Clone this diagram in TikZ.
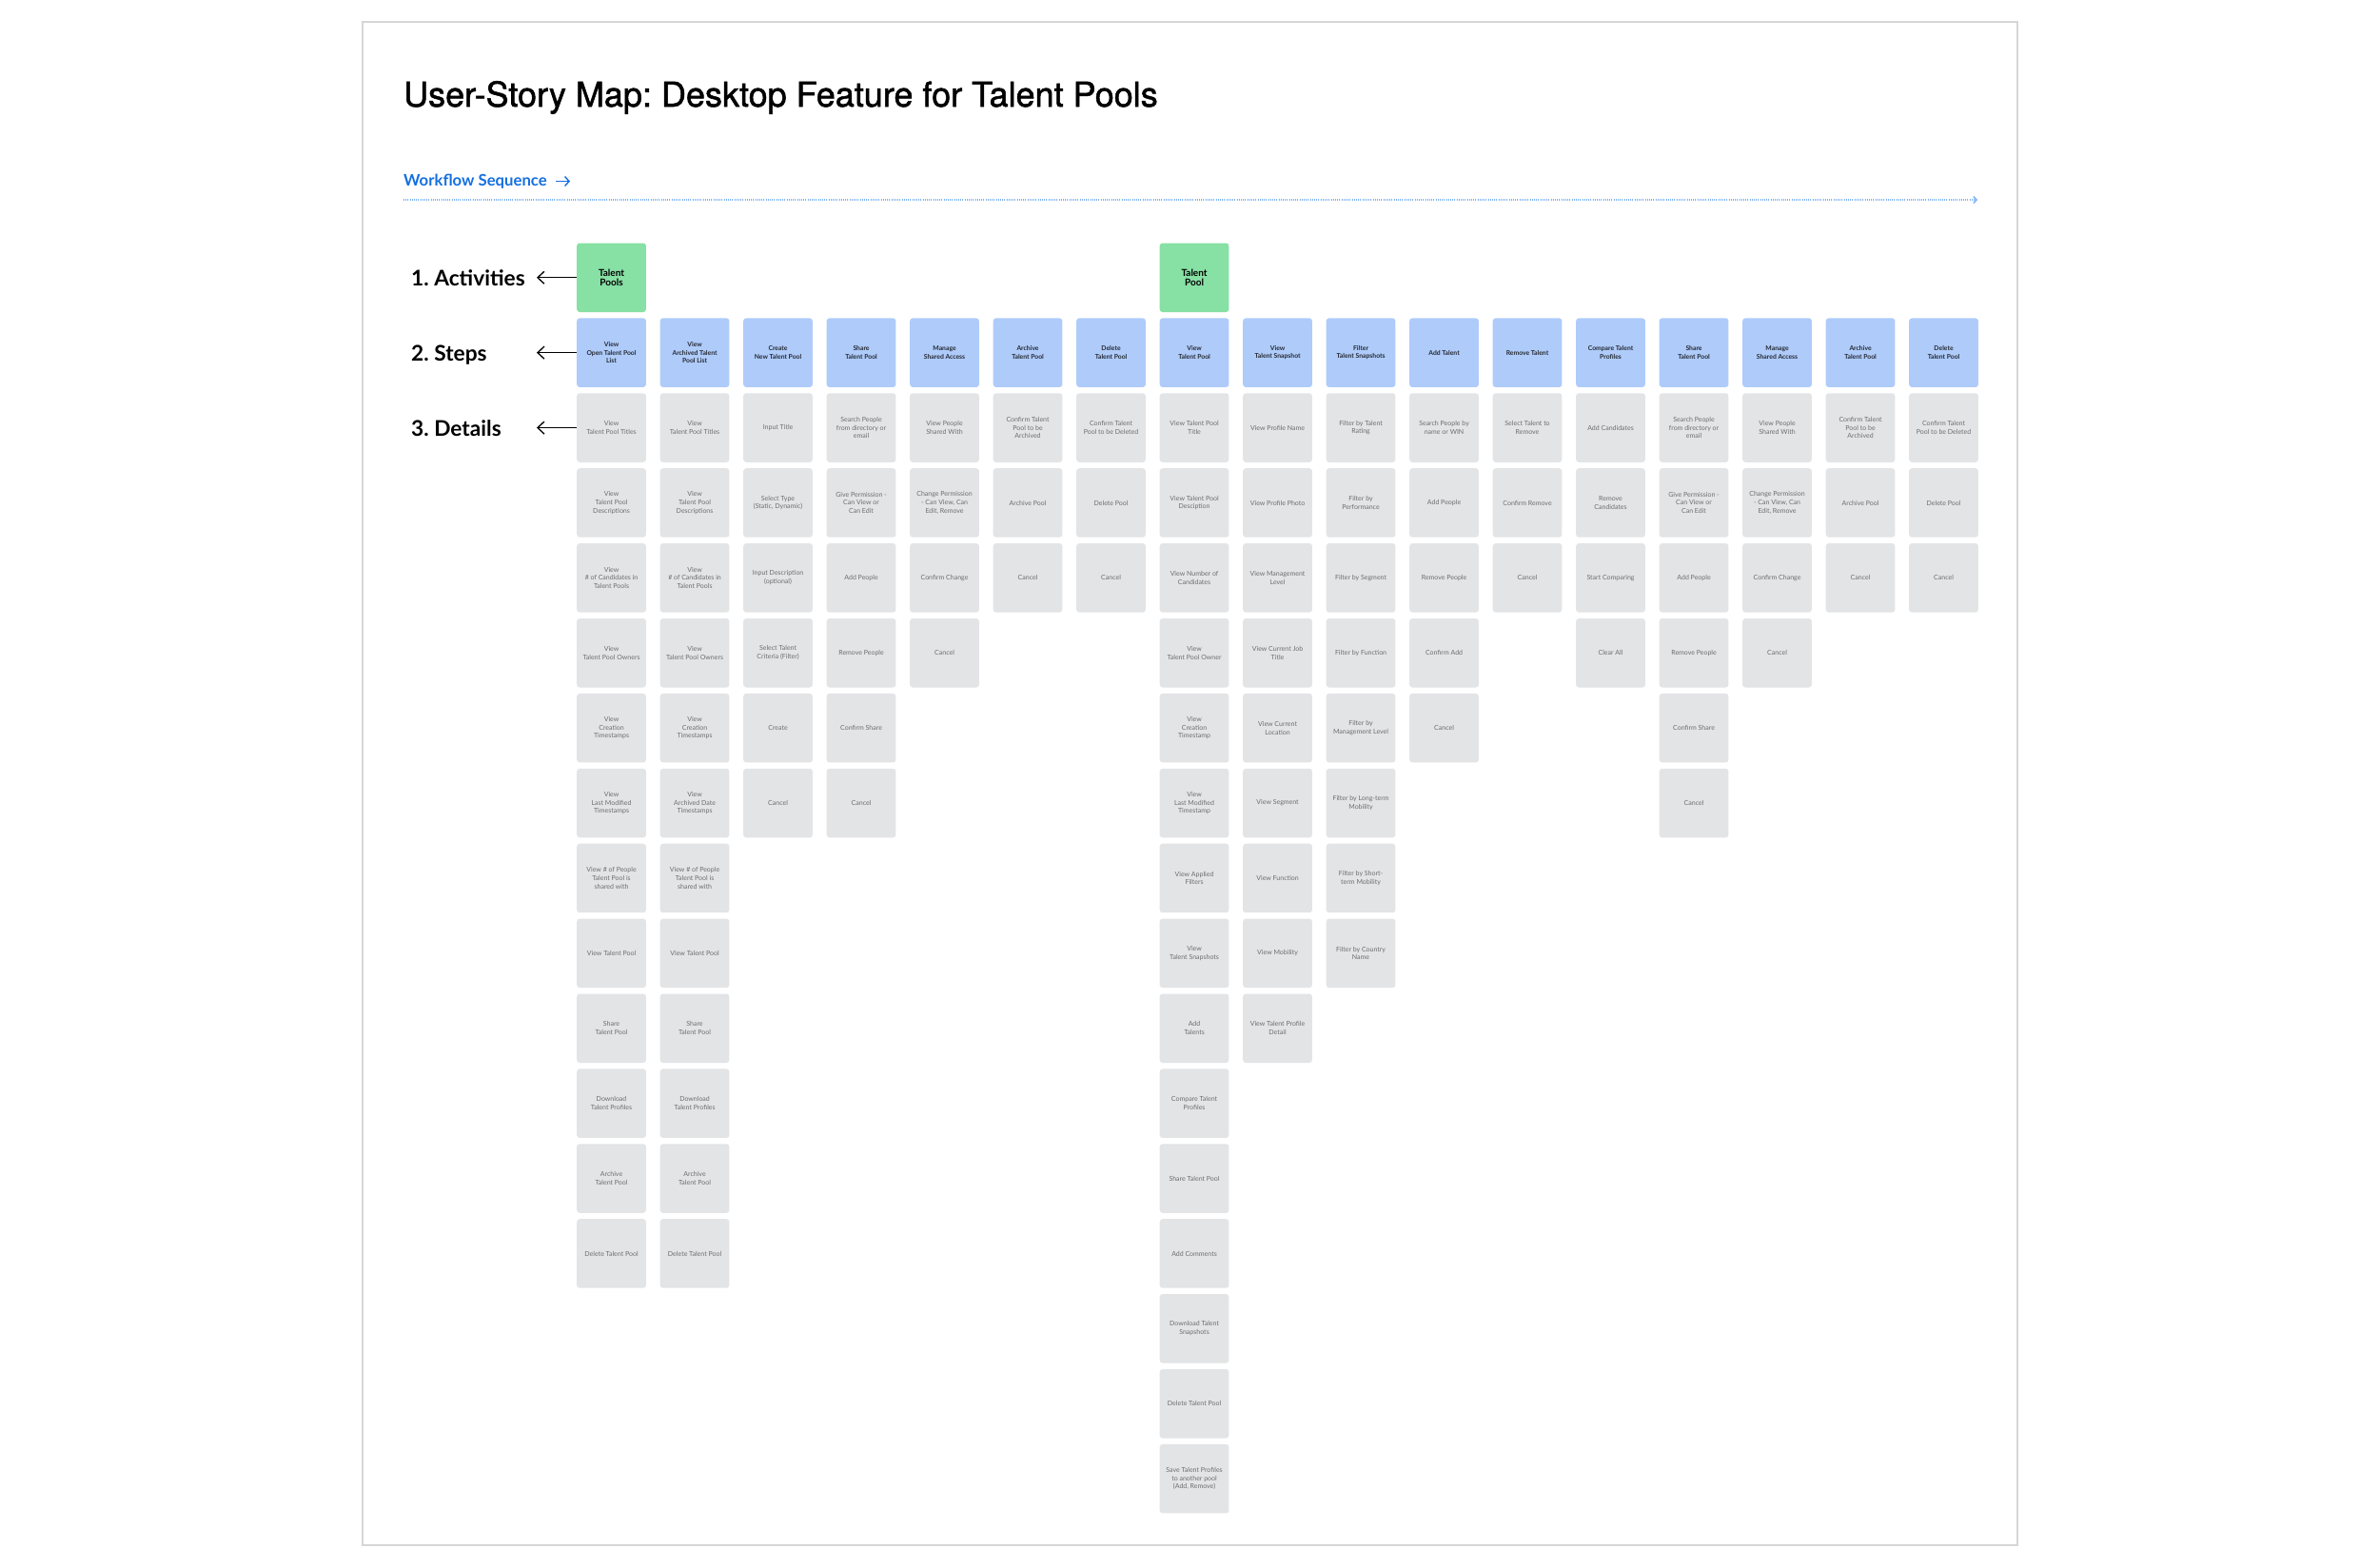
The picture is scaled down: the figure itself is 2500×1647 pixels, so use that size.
\documentclass[tikz,border=0pt]{standalone}
\usepackage{fontspec}
\setmainfont{Lato}
\newfontfamily\titlefont[FakeBold=1.4]{TeX Gyre Heros}
\usetikzlibrary{arrows.meta}
\frenchspacing
\definecolor{actgreen}{HTML}{87E0A4}
\definecolor{stepblue}{HTML}{AECBFA}
\definecolor{detgray}{HTML}{E3E4E6}
\definecolor{dettext}{HTML}{6E6E6E}
\definecolor{steptext}{HTML}{262A33}
\definecolor{framegray}{HTML}{D6D6D6}
\definecolor{wfblue}{HTML}{1570E0}
\definecolor{wfline}{HTML}{7DB3F5}
\newcommand\crd[4]{\node[#3] (c#1r#2) at ({606+87.5*(#1-1)},{255.3+78.9*(#2)}) {#4};}
\begin{document}
\begin{tikzpicture}[x=1pt,y=-1pt,
  cardbox/.style={anchor=north west, minimum width=72.7pt, minimum height=72.5pt,
    inner sep=0pt, rounded corners=3pt, align=center},
  act/.style={cardbox, fill=actgreen, text=black, font=\bfseries\fontsize{10}{10}\selectfont},
  stp/.style={cardbox, fill=stepblue, text=steptext, font=\bfseries\fontsize{6.8}{8.7}\selectfont},
  det/.style={cardbox, fill=detgray, text=dettext, font=\fontsize{7}{8.7}\selectfont},
  lbl/.style={anchor=base west, inner sep=0pt, text=black, font=\bfseries\fontsize{22.7}{26}\selectfont},
  lblarrow/.style={-{Straight Barb[length=7pt,width=13pt]}, line width=1.3pt, black}
]
\useasboundingbox (0,0) rectangle (2500,1647);
\fill[white] (0,0) rectangle (2500,1647);
\draw[framegray, line width=2pt] (380.5,23) rectangle (2120,1624);

% title
\node[anchor=base west, inner sep=0pt, font=\titlefont\fontsize{36}{40}\selectfont] (title) at (424,112) {User-Story Map: Desktop Feature for Talent Pools};

% workflow sequence
\node[anchor=base west, inner sep=0pt, text=wfblue, font=\bfseries\fontsize{16.7}{18}\selectfont] (wf) at (424,195) {Workflow Sequence};
\coordinate (wfa1) at (584,190.5);
\coordinate (wfa2) at (599,190.5);
\draw[wfblue, line width=1.4pt, -{Straight Barb[length=4.5pt,width=10pt]}] (wfa1) -- (wfa2);
\coordinate (wfs) at (424,210);
\coordinate (wfe) at (2078,210);
\draw[wfline, line width=1.6pt, dash pattern=on 1pt off 1.2pt, -{Straight Barb[length=3pt,width=7pt]}] (wfs) -- (wfe);

% column 1
\crd{1}{0}{act}{Talent\\Pools}
\crd{1}{1}{stp}{View\\Open Talent Pool\\List}
\crd{1}{2}{det}{View\\Talent Pool Titles}
\crd{1}{3}{det}{View\\Talent Pool\\Descriptions}
\crd{1}{4}{det}{View\\\# of Candidates in\\Talent Pools}
\crd{1}{5}{det}{View\\Talent Pool Owners}
\crd{1}{6}{det}{View\\Creation\\Timestamps}
\crd{1}{7}{det}{View\\Last Modified\\Timestamps}
\crd{1}{8}{det}{View \# of People\\Talent Pool is\\shared with}
\crd{1}{9}{det}{View Talent Pool}
\crd{1}{10}{det}{Share\\Talent Pool}
\crd{1}{11}{det}{Download\\Talent Profiles}
\crd{1}{12}{det}{Archive\\Talent Pool}
\crd{1}{13}{det}{Delete Talent Pool}

% column 2
\crd{2}{1}{stp}{View\\Archived Talent\\Pool List}
\crd{2}{2}{det}{View\\Talent Pool Titles}
\crd{2}{3}{det}{View\\Talent Pool\\Descriptions}
\crd{2}{4}{det}{View\\\# of Candidates in\\Talent Pools}
\crd{2}{5}{det}{View\\Talent Pool Owners}
\crd{2}{6}{det}{View\\Creation\\Timestamps}
\crd{2}{7}{det}{View\\Archived Date\\Timestamps}
\crd{2}{8}{det}{View \# of People\\Talent Pool is\\shared with}
\crd{2}{9}{det}{View Talent Pool}
\crd{2}{10}{det}{Share\\Talent Pool}
\crd{2}{11}{det}{Download\\Talent Profiles}
\crd{2}{12}{det}{Archive\\Talent Pool}
\crd{2}{13}{det}{Delete Talent Pool}

% column 3
\crd{3}{1}{stp}{Create\\New Talent Pool}
\crd{3}{2}{det}{Input Title}
\crd{3}{3}{det}{Select Type\\(Static, Dynamic)}
\crd{3}{4}{det}{Input Description\\(optional)}
\crd{3}{5}{det}{Select Talent\\Criteria (Filter)}
\crd{3}{6}{det}{Create}
\crd{3}{7}{det}{Cancel}

% column 4
\crd{4}{1}{stp}{Share\\Talent Pool}
\crd{4}{2}{det}{Search People\\from directory or\\email}
\crd{4}{3}{det}{Give Permission -\\Can View or\\Can Edit}
\crd{4}{4}{det}{Add People}
\crd{4}{5}{det}{Remove People}
\crd{4}{6}{det}{Confirm Share}
\crd{4}{7}{det}{Cancel}

% column 5
\crd{5}{1}{stp}{Manage\\Shared Access}
\crd{5}{2}{det}{View People\\Shared With}
\crd{5}{3}{det}{Change Permission\\- Can View, Can\\Edit, Remove}
\crd{5}{4}{det}{Confirm Change}
\crd{5}{5}{det}{Cancel}

% column 6
\crd{6}{1}{stp}{Archive\\Talent Pool}
\crd{6}{2}{det}{Confirm Talent\\Pool to be\\Archived}
\crd{6}{3}{det}{Archive Pool}
\crd{6}{4}{det}{Cancel}

% column 7
\crd{7}{1}{stp}{Delete\\Talent Pool}
\crd{7}{2}{det}{Confirm Talent\\Pool to be Deleted}
\crd{7}{3}{det}{Delete Pool}
\crd{7}{4}{det}{Cancel}

% column 8
\crd{8}{0}{act}{Talent\\Pool}
\crd{8}{1}{stp}{View\\Talent Pool}
\crd{8}{2}{det}{View Talent Pool\\Title}
\crd{8}{3}{det}{View Talent Pool\\Desciption}
\crd{8}{4}{det}{View Number of\\Candidates}
\crd{8}{5}{det}{View\\Talent Pool Owner}
\crd{8}{6}{det}{View\\Creation\\Timestamp}
\crd{8}{7}{det}{View\\Last Modified\\Timestamp}
\crd{8}{8}{det}{View Applied\\Filters}
\crd{8}{9}{det}{View\\Talent Snapshots}
\crd{8}{10}{det}{Add\\Talents}
\crd{8}{11}{det}{Compare Talent\\Profiles}
\crd{8}{12}{det}{Share Talent Pool}
\crd{8}{13}{det}{Add Comments}
\crd{8}{14}{det}{Download Talent\\Snapshots}
\crd{8}{15}{det}{Delete Talent Pool}
\crd{8}{16}{det}{Save Talent Profiles\\to another pool\\(Add, Remove)}

% column 9
\crd{9}{1}{stp}{View\\Talent Snapshot}
\crd{9}{2}{det}{View Profile Name}
\crd{9}{3}{det}{View Profile Photo}
\crd{9}{4}{det}{View Management\\Level}
\crd{9}{5}{det}{View Current Job\\Title}
\crd{9}{6}{det}{View Current\\Location}
\crd{9}{7}{det}{View Segment}
\crd{9}{8}{det}{View Function}
\crd{9}{9}{det}{View Mobility}
\crd{9}{10}{det}{View Talent Profile\\Detail}

% column 10
\crd{10}{1}{stp}{Filter\\Talent Snapshots}
\crd{10}{2}{det}{Filter by Talent\\Rating}
\crd{10}{3}{det}{Filter by\\Performance}
\crd{10}{4}{det}{Filter by Segment}
\crd{10}{5}{det}{Filter by Function}
\crd{10}{6}{det}{Filter by\\Management Level}
\crd{10}{7}{det}{Filter by Long-term\\Mobility}
\crd{10}{8}{det}{Filter by Short-\\term Mobility}
\crd{10}{9}{det}{Filter by Country\\Name}

% column 11
\crd{11}{1}{stp}{Add Talent}
\crd{11}{2}{det}{Search People by\\name or WIN}
\crd{11}{3}{det}{Add People}
\crd{11}{4}{det}{Remove People}
\crd{11}{5}{det}{Confirm Add}
\crd{11}{6}{det}{Cancel}

% column 12
\crd{12}{1}{stp}{Remove Talent}
\crd{12}{2}{det}{Select Talent to\\Remove}
\crd{12}{3}{det}{Confirm Remove}
\crd{12}{4}{det}{Cancel}

% column 13
\crd{13}{1}{stp}{Compare Talent\\Profiles}
\crd{13}{2}{det}{Add Candidates}
\crd{13}{3}{det}{Remove\\Candidates}
\crd{13}{4}{det}{Start Comparing}
\crd{13}{5}{det}{Clear All}

% column 14
\crd{14}{1}{stp}{Share\\Talent Pool}
\crd{14}{2}{det}{Search People\\from directory or\\email}
\crd{14}{3}{det}{Give Permission -\\Can View or\\Can Edit}
\crd{14}{4}{det}{Add People}
\crd{14}{5}{det}{Remove People}
\crd{14}{6}{det}{Confirm Share}
\crd{14}{7}{det}{Cancel}

% column 15
\crd{15}{1}{stp}{Manage\\Shared Access}
\crd{15}{2}{det}{View People\\Shared With}
\crd{15}{3}{det}{Change Permission\\- Can View, Can\\Edit, Remove}
\crd{15}{4}{det}{Confirm Change}
\crd{15}{5}{det}{Cancel}

% column 16
\crd{16}{1}{stp}{Archive\\Talent Pool}
\crd{16}{2}{det}{Confirm Talent\\Pool to be\\Archived}
\crd{16}{3}{det}{Archive Pool}
\crd{16}{4}{det}{Cancel}

% column 17
\crd{17}{1}{stp}{Delete\\Talent Pool}
\crd{17}{2}{det}{Confirm Talent\\Pool to be Deleted}
\crd{17}{3}{det}{Delete Pool}
\crd{17}{4}{det}{Cancel}

% row labels
\node[lbl] (labA) at (432,300) {1. Activities};
\node[lbl] (labS) at (432,379) {2. Steps};
\node[lbl] (labD) at (432,458) {3. Details};
\coordinate (lblend) at (564,0);
\draw[lblarrow] (c1r0.west) -- (c1r0.west -| lblend);
\draw[lblarrow] (c1r1.west) -- (c1r1.west -| lblend);
\draw[lblarrow] (c1r2.west) -- (c1r2.west -| lblend);
\end{tikzpicture}
\end{document}
